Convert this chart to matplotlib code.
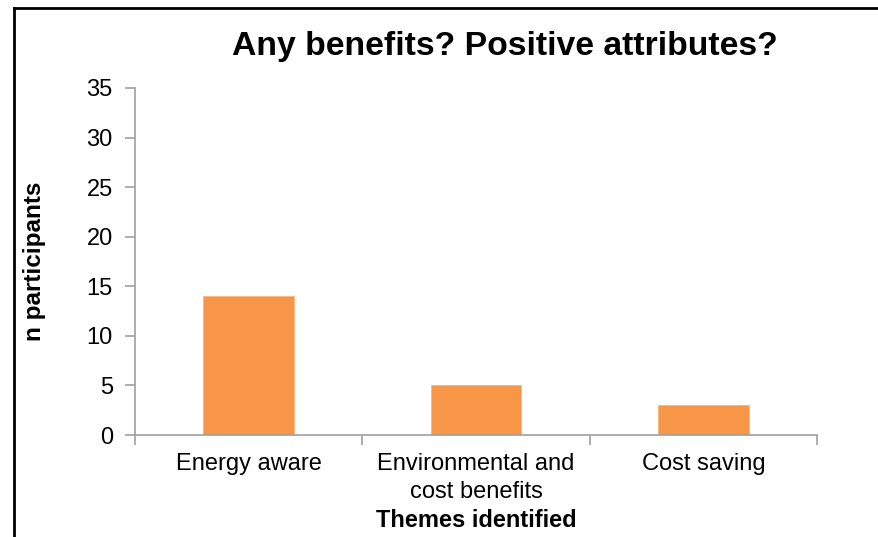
import numpy as np
import matplotlib.pyplot as plt
from matplotlib.lines import Line2D

plt.rcParams['font.family'] = ['Liberation Sans', 'DejaVu Sans']

# data
themes = ["Energy aware", "Environmental and\ncost benefits", "Cost saving"]
n_participants = [14, 5, 3]

fig = plt.figure(figsize=(8.79, 5.37), dpi=100)
ax = fig.add_axes([135/879, 1-435/537, (817-135)/879, (435-88)/537])

x = np.arange(len(themes))
ax.bar(x, n_participants, width=0.4, color='#F79646', edgecolor='#FBB57E', linewidth=0.6)

ax.set_xlim(-0.5, len(themes)-0.5)
ax.set_ylim(0, 35)
ax.set_yticks(range(0, 36, 5))
ax.set_xticks(x)
ax.set_xticklabels(themes, fontsize=17, linespacing=1.35)
ax.set_xticks(np.arange(-0.5, len(themes), 1), minor=True)
ax.tick_params(axis='x', which='major', length=0, pad=13)
ax.tick_params(axis='x', which='minor', length=7, color='#A0A0A0', width=1.2)
ax.tick_params(axis='y', length=7, color='#A0A0A0', width=1.2, labelsize=17, pad=9)
for s in ['top', 'right']:
    ax.spines[s].set_visible(False)
for s in ['left', 'bottom']:
    ax.spines[s].set_color('#A0A0A0')
    ax.spines[s].set_linewidth(1.2)

ax.set_ylabel("n participants", fontsize=17.5, fontweight='bold', labelpad=29)
ax.set_xlabel("Themes identified", fontsize=17, fontweight='bold', labelpad=4)
fig.text(505/879, 1-46/537, "Any benefits? Positive attributes?", fontsize=24.3,
         fontweight='bold', ha='center', va='center')

# frame border
fig.add_artist(Line2D([14/879, 14/879], [0, 1-8/537], color='black', lw=2))
fig.add_artist(Line2D([14/879, 1], [1-8/537, 1-8/537], color='black', lw=2))

fig.savefig("out.png", dpi=100)
